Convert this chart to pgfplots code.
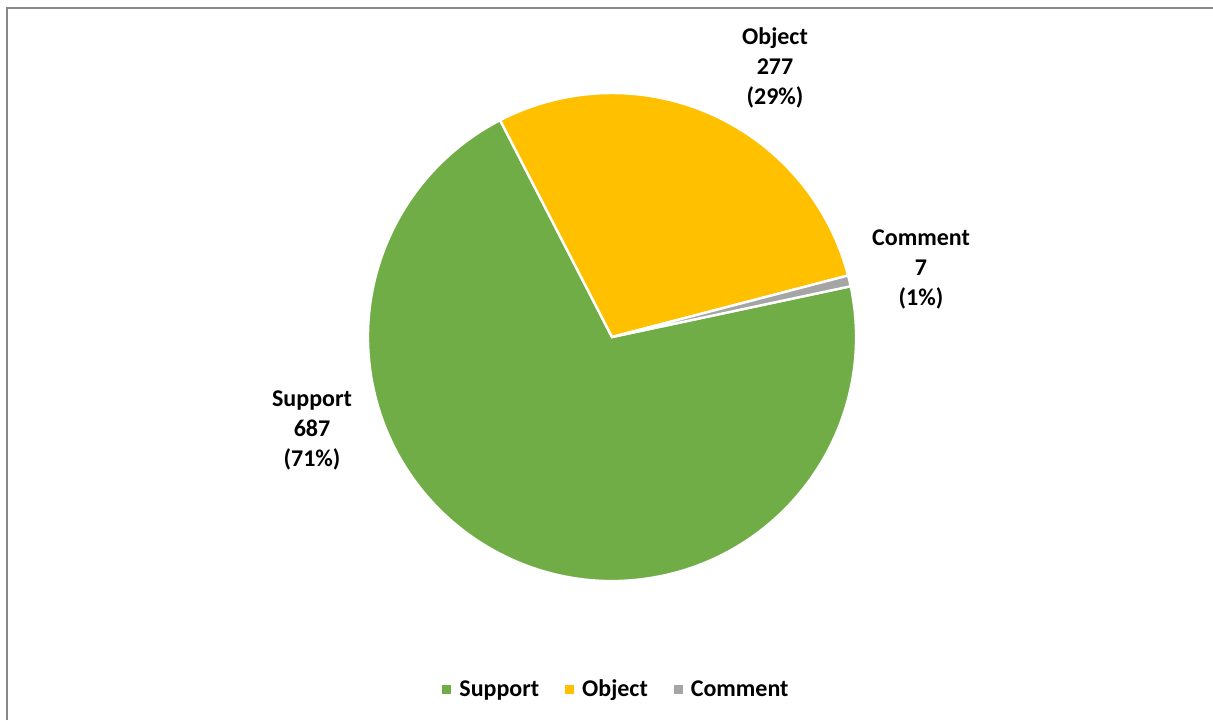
\documentclass[border=0pt]{standalone}
\usepackage{pgfplots}
\pgfplotsset{compat=1.18}
\usepackage{pgfplotstable}
\usepackage{fontspec}
\setmainfont{Carlito}
\definecolor{cSup}{HTML}{70AD47}
\definecolor{cObj}{HTML}{FFC000}
\definecolor{cCom}{HTML}{A5A5A5}
\definecolor{frame}{HTML}{898989}
\pgfplotstableread{
label value
Support 687
Object 277
Comment 7
}\piedata
\begin{document}
\begin{tikzpicture}
\pgfplotstablegetelem{0}{value}\of\piedata \let\vS\pgfplotsretval
\pgfplotstablegetelem{1}{value}\of\piedata \let\vO\pgfplotsretval
\pgfplotstablegetelem{2}{value}\of\piedata \let\vC\pgfplotsretval
\pgfmathsetmacro{\tot}{\vS+\vO+\vC}
\pgfmathsetmacro{\aS}{12}
\pgfmathsetmacro{\bS}{\aS-360*(\vS/\tot)}
\pgfmathsetmacro{\bO}{\bS-360*(\vO/\tot)}
\pgfmathsetmacro{\bC}{\bO-360*(\vC/\tot)}
\begin{axis}[
  x=0.5pt, y=0.5pt,
  xmin=0, xmax=1213, ymin=0, ymax=720,
  hide axis, clip=false,
  legend columns=3,
  legend style={at={(axis cs:617.5,30)}, anchor=center, draw=none, fill=none,
    font=\bfseries\fontsize{12}{14}\selectfont,
    /tikz/every odd column/.append style={column sep=2pt},
    /tikz/every even column/.append style={column sep=11pt}},
  legend image code/.code={\fill[#1] (0pt,-2pt) rectangle (4.5pt,2.5pt);},
]
\draw[color=frame, line width=1pt] (axis cs:7,0) -- (axis cs:7,712) -- (axis cs:1213,712);
\fill[cSup, draw=white, line width=1.2pt] (axis cs:612,383) -- ++(\aS:122pt) arc[start angle=\aS, end angle=\bS, radius=122pt] -- cycle;
\fill[cObj, draw=white, line width=1.2pt] (axis cs:612,383) -- ++(\bS:122pt) arc[start angle=\bS, end angle=\bO, radius=122pt] -- cycle;
\fill[cCom, draw=white, line width=1.2pt] (axis cs:612,383) -- ++(\bO:122pt) arc[start angle=\bO, end angle=\bC, radius=122pt] -- cycle;
\node[align=center, font=\bfseries\fontsize{12}{15}\selectfont] at (axis cs:775,652) {Object\\277\\(29\%)};
\node[align=center, font=\bfseries\fontsize{12}{15}\selectfont] at (axis cs:921,451) {Comment\\7\\(1\%)};
\node[align=center, font=\bfseries\fontsize{12}{15}\selectfont] at (axis cs:312,290) {Support\\687\\(71\%)};
\addlegendimage{fill=cSup, draw=none}
\addlegendentry{Support}
\addlegendimage{fill=cObj, draw=none}
\addlegendentry{Object}
\addlegendimage{fill=cCom, draw=none}
\addlegendentry{Comment}
\end{axis}
\pgfresetboundingbox
\path[use as bounding box] (current axis.south west) rectangle (current axis.north east);
\end{tikzpicture}
\end{document}
